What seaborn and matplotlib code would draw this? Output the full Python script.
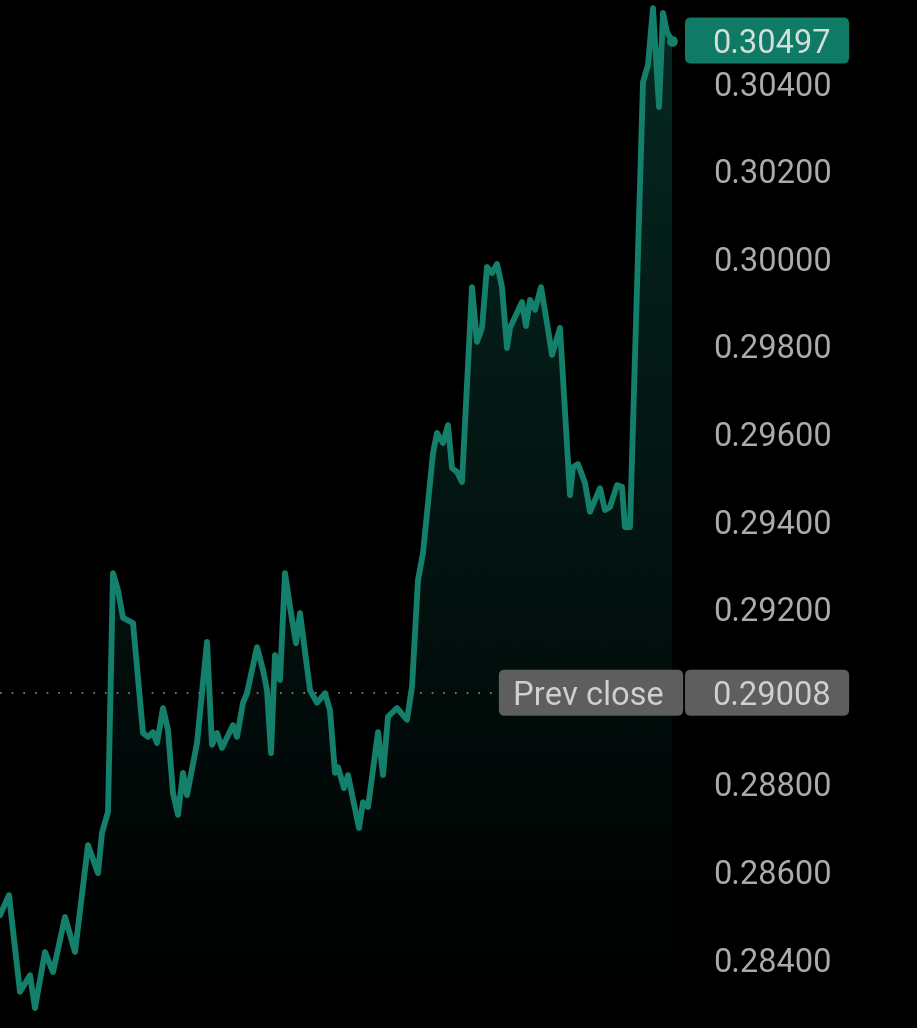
import numpy as np
import pandas as pd
import matplotlib
matplotlib.use("Agg")
import matplotlib.pyplot as plt
import matplotlib.transforms as mtransforms
from matplotlib.colors import to_rgb
from matplotlib.patches import FancyBboxPatch
import seaborn as sns

# intraday prices (minutes from open)
minutes = [0, 4.5, 10, 15, 17.5, 22.5, 26.5, 32.5, 37.5, 44, 49, 51, 54, 56.5, 59, 61.5,
           66.5, 71.5, 74, 76.5, 78.5, 81.5, 84, 86.5, 89, 91.5, 93.5, 98.5, 103.5, 106,
           108.5, 111, 116.5, 118.5, 121.5, 123.5, 128.5, 131.5, 133.5, 135.5, 137.5, 140,
           142.5, 145, 148, 150, 155, 158.5, 162.5, 165, 167.5, 169, 172, 174, 179.5, 181.5,
           184, 189, 191.5, 194, 198.5, 203.5, 206, 209, 211.5, 216.5, 218.5, 221.5, 224,
           226, 228.5, 231, 236, 238.5, 241, 243.5, 246, 248.5, 251, 253.5, 255, 261, 263,
           265, 267.5, 270.5, 273.5, 276, 280, 285, 286.5, 289, 292.5, 295, 300, 302.5, 305,
           308.5, 311, 312.5, 315, 321.5, 324, 326.5, 329.5, 331.5, 333.5, 336]
prices = [0.28500, 0.28546, 0.28325, 0.28363, 0.28288, 0.28416, 0.28370, 0.28496, 0.28416,
          0.28660, 0.28596, 0.28688, 0.28736, 0.29281, 0.29242, 0.29179, 0.29167, 0.28916,
          0.28907, 0.28918, 0.28893, 0.28973, 0.28923, 0.28779, 0.28729, 0.28825, 0.28774,
          0.28893, 0.29124, 0.28889, 0.28916, 0.28882, 0.28934, 0.28907, 0.28985, 0.29007,
          0.29112, 0.29060, 0.29014, 0.28870, 0.29094, 0.29037, 0.29281, 0.29204, 0.29121,
          0.29190, 0.29014, 0.28985, 0.29007, 0.28968, 0.28825, 0.28838, 0.28790, 0.28820,
          0.28699, 0.28758, 0.28747, 0.28918, 0.28820, 0.28953, 0.28973, 0.28946, 0.29021,
          0.29265, 0.29327, 0.29555, 0.29601, 0.29578, 0.29619, 0.29521, 0.29512, 0.29489,
          0.29934, 0.29809, 0.29841, 0.29980, 0.29966, 0.29987, 0.29934, 0.29795, 0.29841,
          0.29900, 0.29845, 0.29905, 0.29882, 0.29934, 0.29852, 0.29779, 0.29841, 0.29459,
          0.29523, 0.29530, 0.29487, 0.29421, 0.29475, 0.29425, 0.29432, 0.29482, 0.29478,
          0.29386, 0.29386, 0.30402, 0.30441, 0.30571, 0.30345, 0.30560, 0.30516, 0.30497]
prev_close = 0.29008
last_price = 0.30497
tick_values = [0.284, 0.286, 0.288, 0.292, 0.294, 0.296, 0.298, 0.300, 0.302, 0.304]

df = pd.DataFrame({"minute": minutes, "price": prices})

teal = "#14806b"

sns.set_style("dark", rc={"axes.facecolor": "black", "figure.facecolor": "black"})
plt.rcParams["font.family"] = ["Roboto", "DejaVu Sans"]

fig = plt.figure(figsize=(9.17, 10.28), dpi=100)
ax = fig.add_axes([0, 0, 1, 1])
ax.set_facecolor("black")

ymin, ymax = 0.282425, 0.305895

# gradient area under the line
fill = ax.fill_between(df["minute"], df["price"], ymin, color="none", lw=0)
rgba = np.zeros((256, 1, 4))
rgba[..., :3] = to_rgb(teal)
rgba[:, 0, 3] = np.linspace(0.0, 0.32, 256)
img = ax.imshow(rgba, extent=[0, df["minute"].max(), ymin, ymax], origin="lower",
                aspect="auto", zorder=1, interpolation="bilinear")
img.set_clip_path(fill.get_paths()[0], ax.transData)

sns.lineplot(data=df, x="minute", y="price", color=teal, lw=4.2, ax=ax, zorder=3,
             solid_joinstyle="round", solid_capstyle="round")
ax.scatter([df["minute"].iloc[-1]], [df["price"].iloc[-1]], s=60, color=teal, zorder=4, lw=0)

# previous close reference
ax.axhline(prev_close, xmin=0, xmax=0.544, color="#8a8a8a", lw=1.2,
           linestyle=(0, (1, 6)), zorder=2)

ax.set_xlim(0, 458.5)
ax.set_ylim(ymin, ymax)

ax.set_yticks(tick_values)
ax.set_yticklabels([f"{v:.5f}" for v in tick_values])
ax.yaxis.tick_right()
ax.tick_params(axis="y", length=0, pad=-147, labelsize=23.5, labelcolor="#ababab")
ax.set_xticks([])
ax.set_xlabel("")
ax.set_ylabel("")
ax.grid(False)
for s in ax.spines.values():
    s.set_visible(False)

# price tags
def frac(v):
    return (v - ymin) / (ymax - ymin)

half_h = 23 / 1028
tags = [
    (0.747, 0.926 - 0.747, last_price, "#0f7a65"),
    (0.544, 0.745 - 0.544, prev_close, "#5e5e5e"),
    (0.747, 0.926 - 0.747, prev_close, "#5e5e5e"),
]
for x0, w, v, c in tags:
    box = FancyBboxPatch((x0, frac(v) - half_h), w, 2 * half_h,
                         boxstyle="round,pad=0,rounding_size=0.006",
                         transform=ax.transAxes, fc=c, ec="none", zorder=5)
    ax.add_patch(box)

blend = mtransforms.blended_transform_factory(ax.transAxes, ax.transData)
ax.text(0.841, last_price, f"{last_price:.5f}", transform=blend, ha="center",
        va="center_baseline", fontsize=23.5, color="#d6dedb", zorder=6)
ax.text(0.642, prev_close, "Prev close", transform=blend, ha="center",
        va="center_baseline", fontsize=23.5, color="#d0d0d0", zorder=6)
ax.text(0.841, prev_close, f"{prev_close:.5f}", transform=blend, ha="center",
        va="center_baseline", fontsize=23.5, color="#d0d0d0", zorder=6)

plt.savefig("out.png", dpi=100, facecolor="black")
